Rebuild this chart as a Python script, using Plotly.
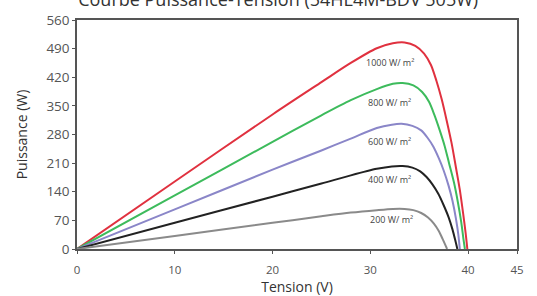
import plotly.graph_objects as go

# Irradiance levels
irradiance_labels = ["1000 W/ m²", "800 W/ m²", "600 W/ m²", "400 W/ m²", "200 W/ m²"]
colors = ["#e0313f", "#3dbb5c", "#8a86c8", "#222222", "#8a8a8a"]

# Voltage (V) / power (W)
v_1000 = [0, 10, 20, 25, 28, 30.66, 32.3, 33.5, 34.6, 35.5, 36.2, 36.75, 37.3, 37.8, 38.3, 38.75, 39.15, 39.5, 39.75, 39.92]
p_1000 = [0, 165, 329, 408, 455, 491, 503, 505, 497, 478, 450, 412, 366, 315, 260, 200, 145, 85, 38, 0]

v_800 = [0, 10, 20, 25, 28, 30.66, 32.3, 33.3, 34.4, 35.3, 36.0, 36.55, 37.1, 37.6, 38.05, 38.55, 38.95, 39.3, 39.52, 39.67]
p_800 = [0, 131, 262, 327, 364, 391, 404, 406, 400, 384, 360, 328, 290, 252, 210, 163, 115, 65, 25, 0]

v_600 = [0, 10, 20, 25, 28, 30.66, 32.2, 33.2, 34.3, 35.2, 35.85, 36.45, 37.0, 37.5, 38.0, 38.4, 38.75, 39.0, 39.15]
p_600 = [0, 97, 194, 241, 270, 296, 304, 306, 301, 290, 272, 250, 222, 192, 155, 118, 75, 35, 0]

v_400 = [0, 10, 20, 25, 28, 30.66, 32.2, 33.3, 34.3, 35.1, 35.75, 36.35, 36.95, 37.5, 38.0, 38.4, 38.7, 38.9]
p_400 = [0, 64, 128, 160, 180, 196, 202, 203, 199, 190, 176, 158, 135, 107, 78, 48, 20, 0]

v_200 = [0, 10, 20, 25, 28, 30.66, 32.3, 33.5, 34.4, 35.2, 35.9, 36.5, 37.0, 37.4, 37.85]
p_200 = [0, 32, 64, 80, 89, 95, 98, 98, 95, 88, 77, 62, 44, 24, 0]

# Label anchor positions (data units)
label_v = [32, 32, 32, 32, 32.2]
label_p = [455, 359, 264, 169, 71]

x_ticks = [0, 10, 20, 30, 40, 45]
y_ticks = [0, 70, 140, 210, 280, 350, 420, 490, 560]

series_v = [v_1000, v_800, v_600, v_400, v_200]
series_p = [p_1000, p_800, p_600, p_400, p_200]

fig = go.Figure()
for v, p, c, name in zip(series_v, series_p, colors, irradiance_labels):
    fig.add_trace(go.Scatter(x=v, y=p, mode="lines", name=name,
                             line=dict(color=c, width=2, shape="spline", smoothing=0.8),
                             showlegend=False, hoverinfo="x+y"))

for t, xv, yv in zip(irradiance_labels, label_v, label_p):
    fig.add_annotation(x=xv, y=yv, text=t, showarrow=False,
                       font=dict(family="Open Sans", size=9, color="#444444"))

fig.update_layout(
    width=537, height=296,
    margin=dict(l=77, r=20, t=20, b=47, autoexpand=False),
    paper_bgcolor="white", plot_bgcolor="white",
    font=dict(family="Open Sans", color="#444444"),
    title=dict(text="Courbe Puissance-Tension (54HL4M-BDV 505W)",
               x=0.518, xanchor="center", y=1.0, yanchor="middle", yref="container",
               font=dict(size=18, color="#333333")),
)
fig.update_xaxes(range=[0, 45], tickvals=x_ticks, ticktext=[str(t) for t in x_ticks],
                 automargin=False,
                 showgrid=False, zeroline=False, showline=True, mirror=True,
                 linecolor="#555555", linewidth=1.5, ticks="outside", ticklen=3,
                 tickcolor="#555555", tickfont=dict(size=11.5, color="#555555"),
                 ticklabelstandoff=6,
                 title=dict(text="Tension (V)", font=dict(size=14, color="#333333"), standoff=5))
fig.update_yaxes(range=[0, 560], tickvals=y_ticks, ticktext=[str(t) for t in y_ticks],
                 automargin=False,
                 showgrid=False, zeroline=False, showline=True, mirror=True,
                 linecolor="#555555", linewidth=1.5, ticks="outside", ticklen=3,
                 tickcolor="#555555", tickfont=dict(size=13.5, color="#555555"),
                 title=dict(text="Puissance (W)", font=dict(size=14, color="#333333"), standoff=15))

fig.write_html("out.html", config={"displayModeBar": False},
               post_script="document.body.style.margin='0';document.body.style.overflow='hidden';")
